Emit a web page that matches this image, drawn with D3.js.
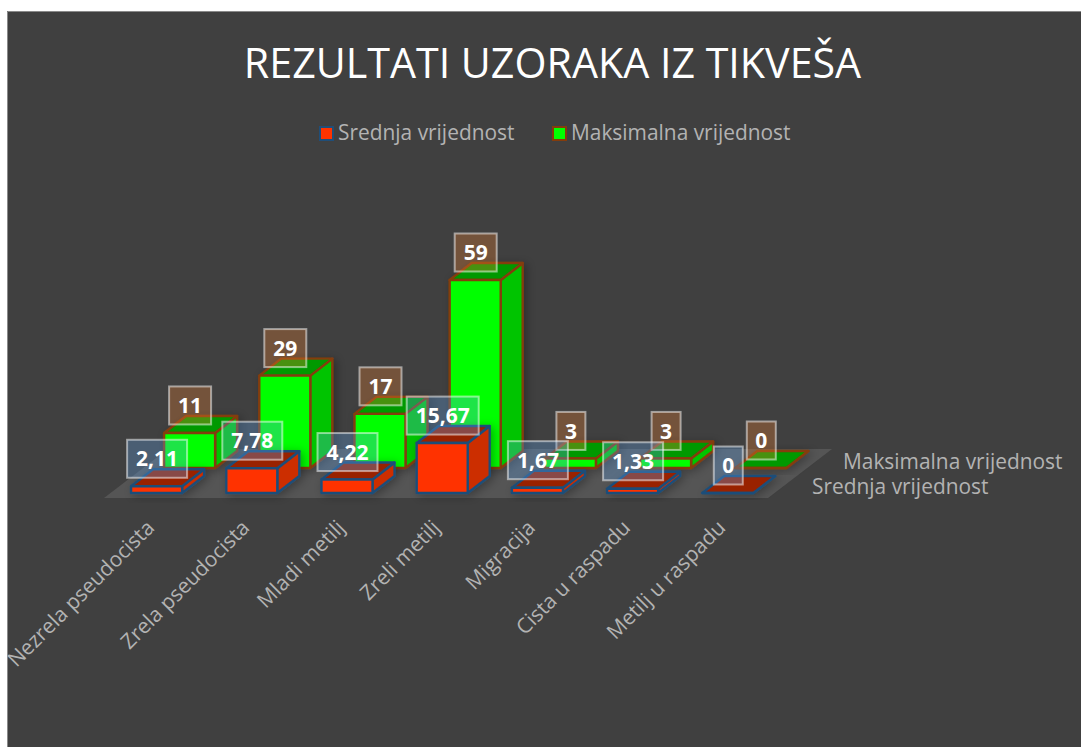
<!DOCTYPE html>
<html>
<head>
<meta charset="utf-8">
<script src="https://cdn.jsdelivr.net/npm/d3@7"></script>
<style>
  html, body { margin: 0; padding: 0; background: #fff; }
  svg { display: block; }
  text { font-family: "Open Sans", "Noto Sans", sans-serif; }
</style>
</head>
<body>
<div id="chart"></div>
<script>
const categories = ["Nezrela pseudocista", "Zrela pseudocista", "Mladi metilj", "Zreli metilj", "Migracija", "Cista u raspadu", "Metilj u raspadu"];
const seriesNames = ["Srednja vrijednost", "Maksimalna vrijednost"];
const srednja = [2.11, 7.78, 4.22, 15.67, 1.67, 1.33, 0];
const maksimalna = [11, 29, 17, 59, 3, 3, 0];
const seriesValues = [srednja, maksimalna];

const width = 1081;
const height = 747;
const colors = [
  { front: "#ff3300", side: "#cc2d00", top: "#992200", line: "#1f4e79", label: "rgba(100,165,235,.3)" },
  { front: "#00ff00", side: "#00c400", top: "#009900", line: "#843c0c", label: "rgba(240,130,50,.3)" },
];

const svg = d3.select("#chart").append("svg").attr("width", width).attr("height", height);

const defs = svg.append("defs");
defs.append("filter").attr("id", "shadow")
  .attr("x", "-40%").attr("y", "-40%").attr("width", "180%").attr("height", "180%")
  .append("feDropShadow")
  .attr("dx", 3).attr("dy", 2).attr("stdDeviation", 5)
  .attr("flood-color", "#000").attr("flood-opacity", 0.3);

svg.append("rect").attr("x", 7).attr("y", 11).attr("width", width - 7).attr("height", height - 11).attr("fill", "#404040");
svg.append("path").attr("d", `M7.5,${height}V11.5H${width}`).attr("fill", "none").attr("stroke", "#8a8a8a");

const xScale = d3.scaleBand().domain(categories).range([109, 775.4]).paddingInner(0.464).paddingOuter(0.232);
const yScale = d3.scaleLinear().domain([0, 59]).range([0, 188]);
const depthX = d3.scalePoint().domain(seriesNames).range([0, 33]);
const baseY = d3.scalePoint().domain(seriesNames).range([493, 468]);
const depth = { dx: 22, dy: 17 };

// floor
const floor = [[104, 498], [768, 498], [832, 449], [168, 449]];
svg.append("path").attr("d", d3.line()(floor) + "Z").attr("fill", "#555555");

const line = d3.line();

// back row first, so the red bars sit in front of the green ones
const bars = d3.range(seriesNames.length).reverse().flatMap((s) =>
  categories.map((c, i) => ({ s, c, v: seriesValues[s][i], name: seriesNames[s] }))
);

const barGroup = svg.append("g")
  .selectAll("g")
  .data(bars)
  .join("g")
  .attr("filter", "url(#shadow)")
  .attr("stroke-width", 2.4)
  .attr("stroke-linejoin", "round")
  .attr("stroke", (d) => colors[d.s].line);

function corners(d) {
  const x0 = xScale(d.c) + depthX(d.name);
  const x1 = x0 + xScale.bandwidth();
  const y0 = baseY(d.name);
  const y1 = y0 - yScale(d.v);
  return { x0, x1, y0, y1 };
}

barGroup.append("path")
  .attr("fill", (d) => colors[d.s].side)
  .attr("d", (d) => {
    const p = corners(d);
    return line([[p.x1, p.y0], [p.x1 + depth.dx, p.y0 - depth.dy], [p.x1 + depth.dx, p.y1 - depth.dy], [p.x1, p.y1]]) + "Z";
  });
barGroup.append("path")
  .attr("fill", (d) => colors[d.s].top)
  .attr("d", (d) => {
    const p = corners(d);
    return line([[p.x0, p.y1], [p.x1, p.y1], [p.x1 + depth.dx, p.y1 - depth.dy], [p.x0 + depth.dx, p.y1 - depth.dy]]) + "Z";
  });
barGroup.append("path")
  .attr("fill", (d) => colors[d.s].front)
  .attr("d", (d) => {
    const p = corners(d);
    return line([[p.x0, p.y0], [p.x1, p.y0], [p.x1, p.y1], [p.x0, p.y1]]) + "Z";
  });

// data labels
const labelGroup = svg.append("g")
  .selectAll("g")
  .data(bars)
  .join("g")
  .attr("transform", (d) => {
    const p = corners(d);
    return `translate(${(p.x0 + p.x1) / 2 + 0.5},${p.y1 - 27.5})`;
  });

function labelText(d) {
  return String(d.v).replace(".", ",");
}

labelGroup.append("rect")
  .attr("x", (d) => {
    const n = labelText(d).length;
    return -(n === 1 ? 14.5 : n === 2 ? 21 : n === 4 ? 30 : 36);
  })
  .attr("y", -19)
  .attr("width", (d) => {
    const n = labelText(d).length;
    return n === 1 ? 29 : n === 2 ? 42 : n === 4 ? 60 : 72;
  })
  .attr("height", 38)
  .attr("fill", (d) => colors[d.s].label)
  .attr("stroke", "rgba(255,255,255,.5)")
  .attr("stroke-width", 2);

labelGroup.append("text")
  .attr("text-anchor", "middle")
  .attr("dy", "0.36em")
  .attr("font-size", 21)
  .attr("font-weight", 700)
  .attr("fill", "#fff")
  .text(labelText);

// title
svg.append("text")
  .attr("x", 552.5).attr("y", 78)
  .attr("text-anchor", "middle")
  .attr("font-size", 41.2)
  .attr("fill", "#fff")
  .text("REZULTATI UZORAKA IZ TIKVEŠA");

// legend
const legendX = [320, 553];
const legend = svg.append("g")
  .selectAll("g")
  .data(seriesNames)
  .join("g")
  .attr("transform", (d, i) => `translate(${legendX[i]},127)`);
legend.append("rect")
  .attr("width", 13).attr("height", 13)
  .attr("fill", (d, i) => colors[i].front)
  .attr("stroke", (d, i) => colors[i].line)
  .attr("stroke-width", 2);
legend.append("text")
  .attr("x", 18).attr("y", 13)
  .attr("font-size", 20.9)
  .attr("fill", "#b3b3b3")
  .text((d) => d);

// depth axis labels
const depthLabelX = [812, 843];
const depthLabelY = [494, 469];
svg.append("g")
  .selectAll("text")
  .data(seriesNames)
  .join("text")
  .attr("x", (d, i) => depthLabelX[i])
  .attr("y", (d, i) => depthLabelY[i])
  .attr("font-size", 20.9)
  .attr("fill", "#b3b3b3")
  .text((d) => d);

// category labels
svg.append("g")
  .selectAll("text")
  .data(categories)
  .join("text")
  .attr("transform", (d) => `translate(${xScale(d) + xScale.bandwidth() / 2 - 1},${529}) rotate(-45)`)
  .attr("text-anchor", "end")
  .attr("font-size", 20.9)
  .attr("fill", "#b3b3b3")
  .text((d) => d);
</script>
</body>
</html>
